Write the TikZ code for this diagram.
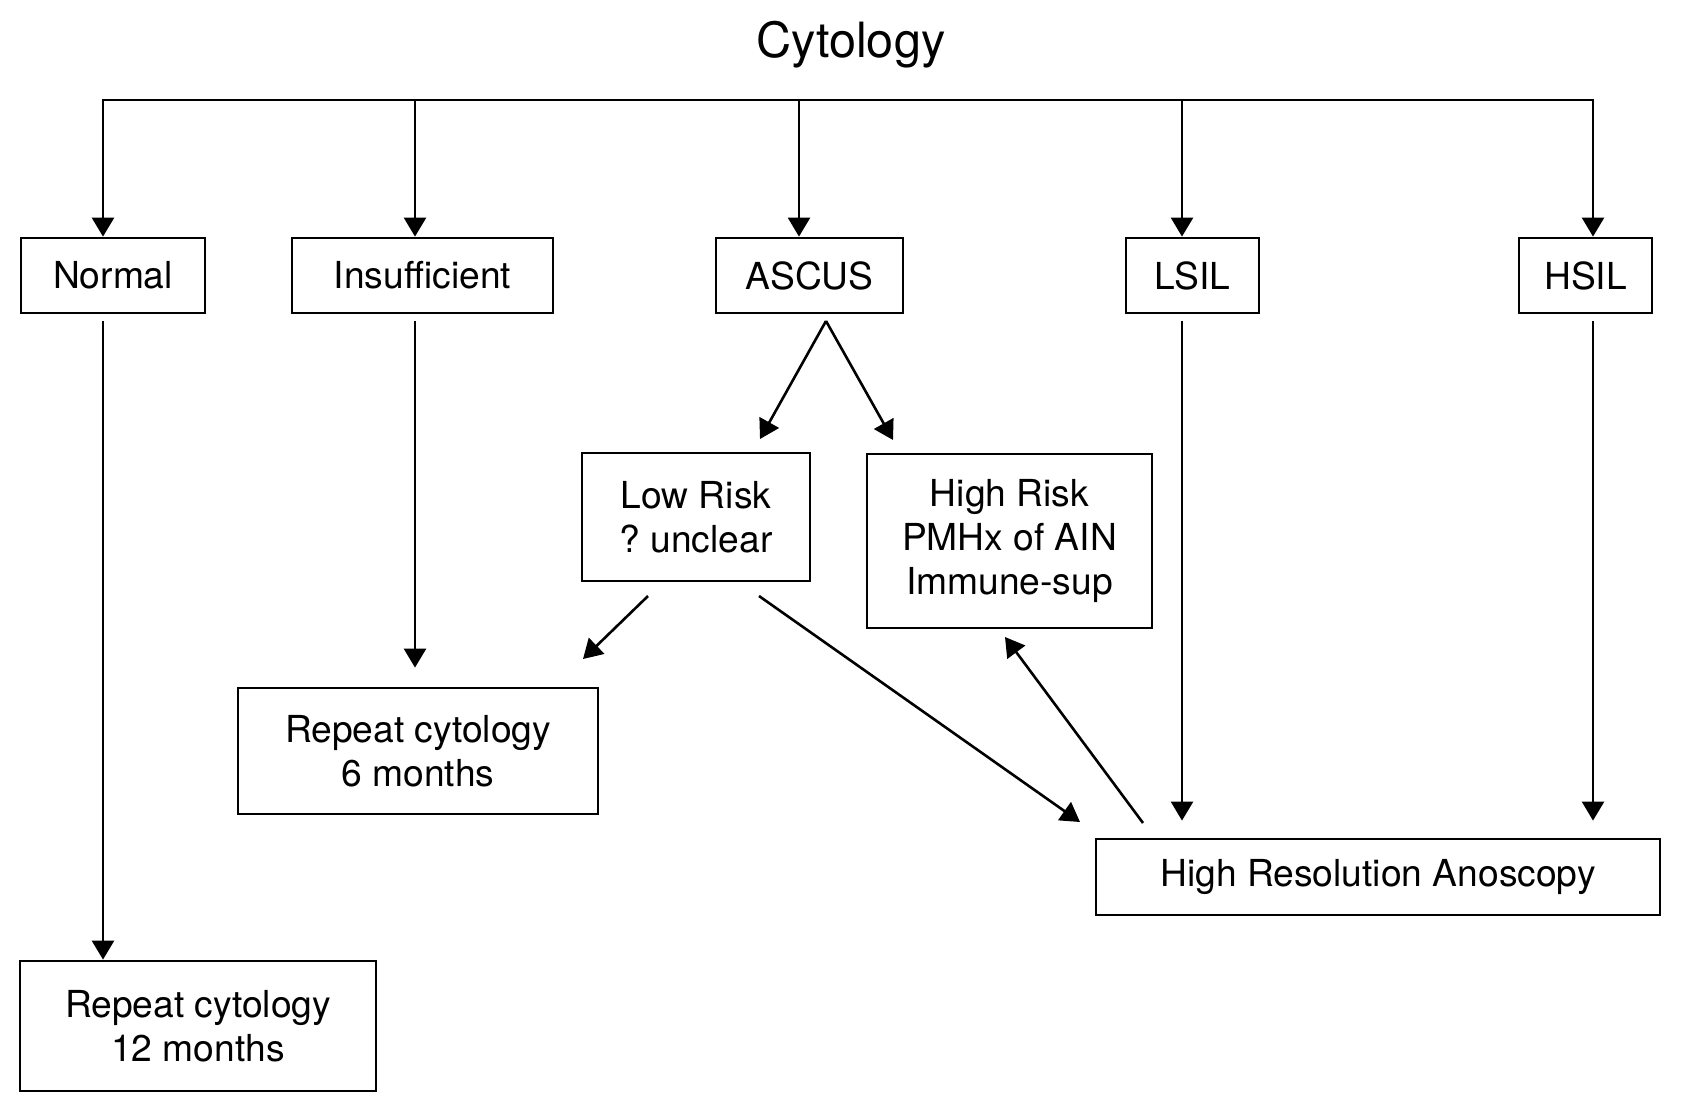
\documentclass[tikz,border=0pt]{standalone}
\usepackage{fontspec}
\setmainfont{TeX Gyre Heros}
\usetikzlibrary{arrows.meta}
\frenchspacing

\tikzset{every picture/.style={line width=1.3pt}}
\tikzset{>={Triangle[length=9.5pt,width=11pt]}}

\begin{document}
\begin{tikzpicture}[x=0.5pt,y=0.5pt,yscale=-1,
  box/.style={draw,line width=1.4pt,inner sep=0pt,align=center,font=\fontsize{18.6pt}{22.2pt}\selectfont}]
\useasboundingbox (0,0) rectangle (1686,1108);

% Title
\node [anchor=base,font=\fontsize{24.3pt}{28pt}\selectfont] (title) at (851,57) {Cytology};

% First row
\node [box,minimum width=92pt,minimum height=37.5pt] (normal) at (113,275.5) {Normal};
\node [box,minimum width=130.5pt,minimum height=37.5pt] (insuf) at (422.5,275.5) {Insufficient};
\node [box,minimum width=93.5pt,minimum height=37.5pt] (ascus) at (809.5,275.5) {ASCUS};
\node [box,minimum width=66.5pt,minimum height=37.5pt] (lsil) at (1192.5,275.5) {LSIL};
\node [box,minimum width=66.5pt,minimum height=37.5pt] (hsil) at (1585.5,275.5) {HSIL};

% Risk boxes
\node [box,minimum width=114pt,minimum height=64pt] (lowrisk) at (696,517) {Low Risk\\? unclear};
\node [box,minimum width=142.5pt,minimum height=87pt] (highrisk) at (1009.5,541) {High Risk\\PMHx of AIN\\Immune-sup};

% Outcomes
\node [box,minimum width=180pt,minimum height=63pt] (rep6) at (418,751) {Repeat cytology\\6 months};
\node [box,minimum width=282pt,minimum height=38pt] (hra) at (1378,877) {High Resolution Anoscopy};
\node [box,minimum width=178pt,minimum height=65pt] (rep12) at (198,1026) {Repeat cytology\\12 months};

% Branch bar
\coordinate (bn) at (103,100);
\coordinate (bi) at (415,100);
\coordinate (ba) at (799,100);
\coordinate (bl) at (1182,100);
\coordinate (bh) at (1593,100);
\draw [<->] (bn |- normal.north) -- (bn) -- (bh) -- (bh |- hsil.north);
\foreach \b/\n in {bi/insuf,ba/ascus,bl/lsil}
  \draw [->] (\b) -- (\b |- \n.north);

% Straight down
\draw [->,shorten <=3.5pt] (bn |- normal.south) -- (bn |- rep12.north);
\draw [->,shorten <=3.5pt,shorten >=9.5pt] (bi |- insuf.south) -- (bi |- rep6.north);
\draw [->,shorten <=3.5pt,shorten >=8.5pt] (bl |- lsil.south) -- (bl |- hra.north);
\draw [->,shorten <=3.5pt,shorten >=8.5pt] (bh |- hsil.south) -- (bh |- hra.north);

% Diagonal ends
\coordinate (ascus-out) at (826,321);
\coordinate (lowrisk-in) at (760,439);
\coordinate (highrisk-in) at (893,440);
\coordinate (lowrisk-out1) at (648,596);
\coordinate (rep6-in) at (583,659);
\coordinate (lowrisk-out2) at (759,596);
\coordinate (hra-in) at (1080,822);
\coordinate (hra-out) at (1143,823);
\coordinate (highrisk-in2) at (1005,637);

\draw [->] (ascus-out) -- (lowrisk-in);
\draw [->] (ascus-out) -- (highrisk-in);
\draw [->] (lowrisk-out1) -- (rep6-in);
\draw [->] (lowrisk-out2) -- (hra-in);
\draw [->] (hra-out) -- (highrisk-in2);
\end{tikzpicture}
\end{document}
